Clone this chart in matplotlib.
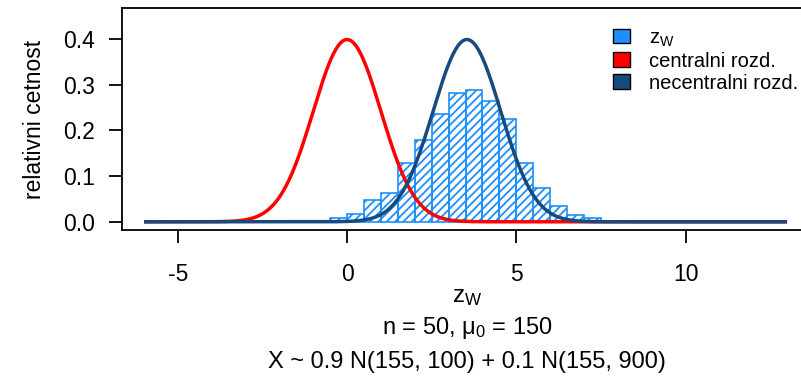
import numpy as np
import matplotlib
matplotlib.use("Agg")
import matplotlib.pyplot as plt
from matplotlib.patches import Patch

# ---- data ----
bin_edges = [-0.5, 0.0, 0.5, 1.0, 1.5, 2.0, 2.5, 3.0, 3.5, 4.0, 4.5, 5.0, 5.5, 6.0, 6.5, 7.0, 7.5]
bin_density = [0.0075, 0.016, 0.048, 0.064, 0.129, 0.180, 0.237, 0.283, 0.289,
               0.265, 0.225, 0.129, 0.074, 0.035, 0.015, 0.009]
central_mean = 0.0
noncentral_mean = 3.54
curve_sd = 1.0
curve_range = [-6.0, 13.0]
x_ticks = [-5, 0, 5, 10]
y_ticks = [0.0, 0.1, 0.2, 0.3, 0.4]
y_ticklabels = ["0.0", "0.1", "0.2", "0.3", "0.4"]
legend_labels = [r"$\mathregular{z_W}$", "centralni rozd.", "necentralni rozd."]

plt.rcParams["font.family"] = ["Liberation Sans", "DejaVu Sans"]
plt.rcParams["mathtext.fontset"] = "custom"
plt.rcParams["mathtext.rm"] = "Liberation Sans"
plt.rcParams["axes.unicode_minus"] = False
plt.rcParams["hatch.linewidth"] = 1.3

C_HIST = "#1E8FFF"
C_RED = "#FF0000"
C_DARK = "#174A7E"

W, H = 801, 387
fig = plt.figure(figsize=(W / 100, H / 100), dpi=100)
left_px, right_px, top_px, bot_px = 122, 812.8, 8, 230
ax = fig.add_axes([left_px / W, 1 - bot_px / H, (right_px - left_px) / W, (bot_px - top_px) / H])

edges = np.array(bin_edges)
widths = np.diff(edges)
ax.bar(edges[:-1], bin_density, width=widths, align="edge", facecolor="none",
       edgecolor=C_HIST, hatch="////", linewidth=1.2, zorder=2)

xs = np.linspace(curve_range[0], curve_range[1], 1000)
def npdf(x, m, s):
    return np.exp(-0.5 * ((x - m) / s) ** 2) / (s * np.sqrt(2 * np.pi))
ax.plot(xs, npdf(xs, central_mean, curve_sd), color=C_RED, lw=2.5, zorder=3,
        solid_capstyle="butt")
ax.plot(xs, npdf(xs, noncentral_mean, curve_sd), color=C_DARK, lw=2.5, zorder=4,
        solid_capstyle="butt")

ax.set_xlim(-6.65, 13.76)
ax.set_ylim(-0.018, 0.468)
ax.set_xticks(x_ticks)
ax.set_xticklabels([str(t) for t in x_ticks])
ax.set_yticks(y_ticks)
ax.set_yticklabels(y_ticklabels)
for s in ax.spines.values():
    s.set_linewidth(1.3)
ax.tick_params(axis="both", length=9.5, width=1.3, labelsize=16.5, color="black")
ax.tick_params(axis="y", pad=10)
ax.tick_params(axis="x", pad=14)

ax.set_ylabel("relativni cetnost", fontsize=16.5, labelpad=12)

handles = [Patch(facecolor=C_HIST, edgecolor="black", lw=1.0),
           Patch(facecolor=C_RED, edgecolor="black", lw=1.0),
           Patch(facecolor=C_DARK, edgecolor="black", lw=1.0)]
leg = ax.legend(handles, legend_labels, loc="upper left", bbox_to_anchor=(0.685, 0.99),
                frameon=False, fontsize=14.5, handlelength=0.85, handleheight=0.72,
                handletextpad=0.9, labelspacing=0.15, borderaxespad=0.5)

cx = (left_px + right_px) / 2 / W
fig.text(cx, 1 - 297 / H, r"$\mathregular{z_W}$", ha="center", va="center", fontsize=17.5)
fig.text(cx, 1 - 328 / H, r"n = 50, $\mathregular{μ_0}$ = 150", ha="center", va="center", fontsize=17)
fig.text(cx, 1 - 362 / H, "X ~ 0.9 N(155, 100) + 0.1 N(155, 900)", ha="center", va="center", fontsize=17)

fig.savefig("out.png", dpi=100)
